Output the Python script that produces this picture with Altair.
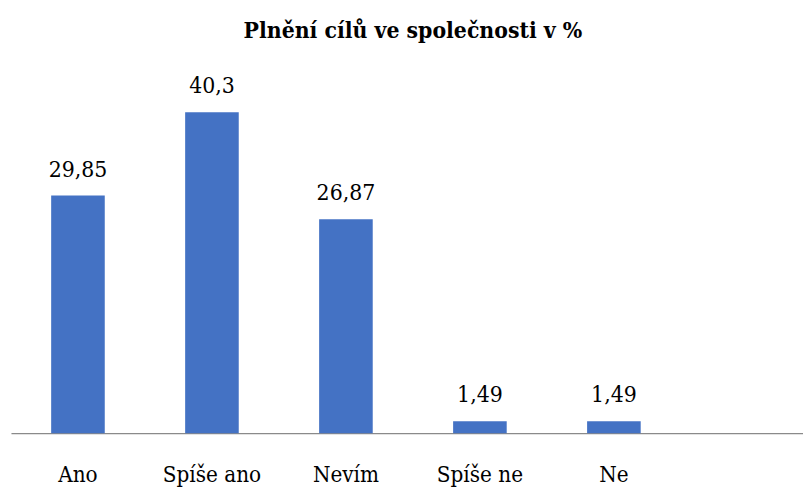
import altair as alt
import pandas as pd

categories = ["Ano", "Spíše ano", "Nevím", "Spíše ne", "Ne"]
values = [29.85, 40.3, 26.87, 1.49, 1.49]
value_labels = ["29,85", "40,3", "26,87", "1,49", "1,49"]
domain = categories + [" "]

df = pd.DataFrame({"cat": categories, "val": values, "lab": value_labels})

FONT = "DejaVu Serif Condensed"

x = alt.X(
    "cat:N",
    sort=domain,
    scale=alt.Scale(domain=domain, range=[0, 812], paddingInner=0.6, paddingOuter=0.3),
    axis=alt.Axis(
        title=None, labelAngle=0, ticks=False, grid=False,
        labelFont=FONT, labelFontSize=22.5, labelColor="#000000",
        labelPadding=31, domainColor="#8a8a8a", domainWidth=1.2,
    ),
)
y = alt.Y("val:Q", scale=alt.Scale(domain=[0, 45]), axis=None)

bars = alt.Chart(df).mark_bar(color="#4472C4").encode(x=x, y=y)
texts = alt.Chart(df).mark_text(
    dy=-19, baseline="alphabetic", font=FONT, fontSize=23, color="#000000"
).encode(x=x, y=y, text="lab:N")

chart = (
    alt.layer(bars, texts)
    .properties(
        width=800,
        height=362,
        autosize=alt.AutoSizeParams(type="none"),
        padding={"left": 3, "right": 0, "top": 65, "bottom": 52},
        title=alt.TitleParams(
            "Plnění cílů ve společnosti v %",
            font=FONT, fontSize=23, fontWeight="bold", color="#000000",
            baseline="alphabetic", offset=14, frame="group", anchor="middle", dx=6,
        ),
    )
    .configure_view(stroke=None)
)

chart.save("out.html", embed_options={"renderer": "svg", "actions": False})
